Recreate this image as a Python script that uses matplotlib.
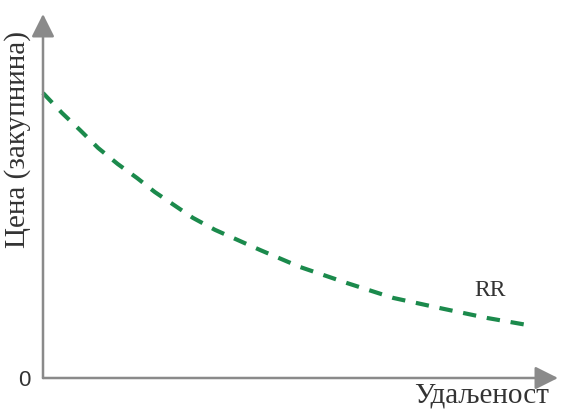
import matplotlib
matplotlib.use("Agg")
import matplotlib.pyplot as plt

# Data (arbitrary units)
distance = [0.0, 0.37, 0.72, 1.07, 1.45, 1.83, 2.17, 2.91, 3.34, 4.21, 4.99, 5.90, 6.80, 7.71, 8.62, 9.51]
price = [7.83, 7.28, 6.81, 6.32, 5.88, 5.49, 5.11, 4.40, 4.07, 3.52, 3.05, 2.61, 2.20, 1.92, 1.65, 1.43]
curve_label = "RR"
x_label = "Удаљеност"
y_label = "Цена (закупнина)"
origin_label = "0"

fig = plt.figure(figsize=(5.62, 4.09), dpi=100)
ax = fig.add_axes([43/562, 31/409, 515/562, 364/409])
ax.set_xlim(0, 10)
ax.set_ylim(0, 10)
ax.axis("off")

axis_color = "#8a8a8a"
green = "#1b8a4c"

ax.plot(distance, price, color=green, lw=3.0, linestyle=(0, (3.2, 2.6)),
        dash_capstyle="butt", solid_joinstyle="round", clip_on=False)

arrow = dict(arrowstyle="-|>,head_length=1.0,head_width=0.5", color=axis_color,
             lw=1.8, mutation_scale=14, shrinkA=0, shrinkB=0)
ax.annotate("", xy=(10, 0), xytext=(0, 0), arrowprops=arrow, annotation_clip=False)
ax.annotate("", xy=(0, 10), xytext=(0, 0), arrowprops=arrow, annotation_clip=False)

serif = ["Liberation Serif", "DejaVu Serif"]
fig.text(18/562, 1 - 139/409, y_label, rotation=90, ha="center", va="center",
         fontsize=21, family=serif, color="#333333")
fig.text(482/562, 1 - 396/409, x_label, ha="center", va="center",
         fontsize=21, family=serif, color="#333333")
fig.text(490/562, 1 - 290/409, curve_label, ha="center", va="center",
         fontsize=17, family=serif, color="#333333")
fig.text(24/562, 1 - 381/409, origin_label, ha="center", va="center",
         fontsize=16, family=["Liberation Sans", "DejaVu Sans"], color="#333333")

fig.savefig("out.png", dpi=100)
